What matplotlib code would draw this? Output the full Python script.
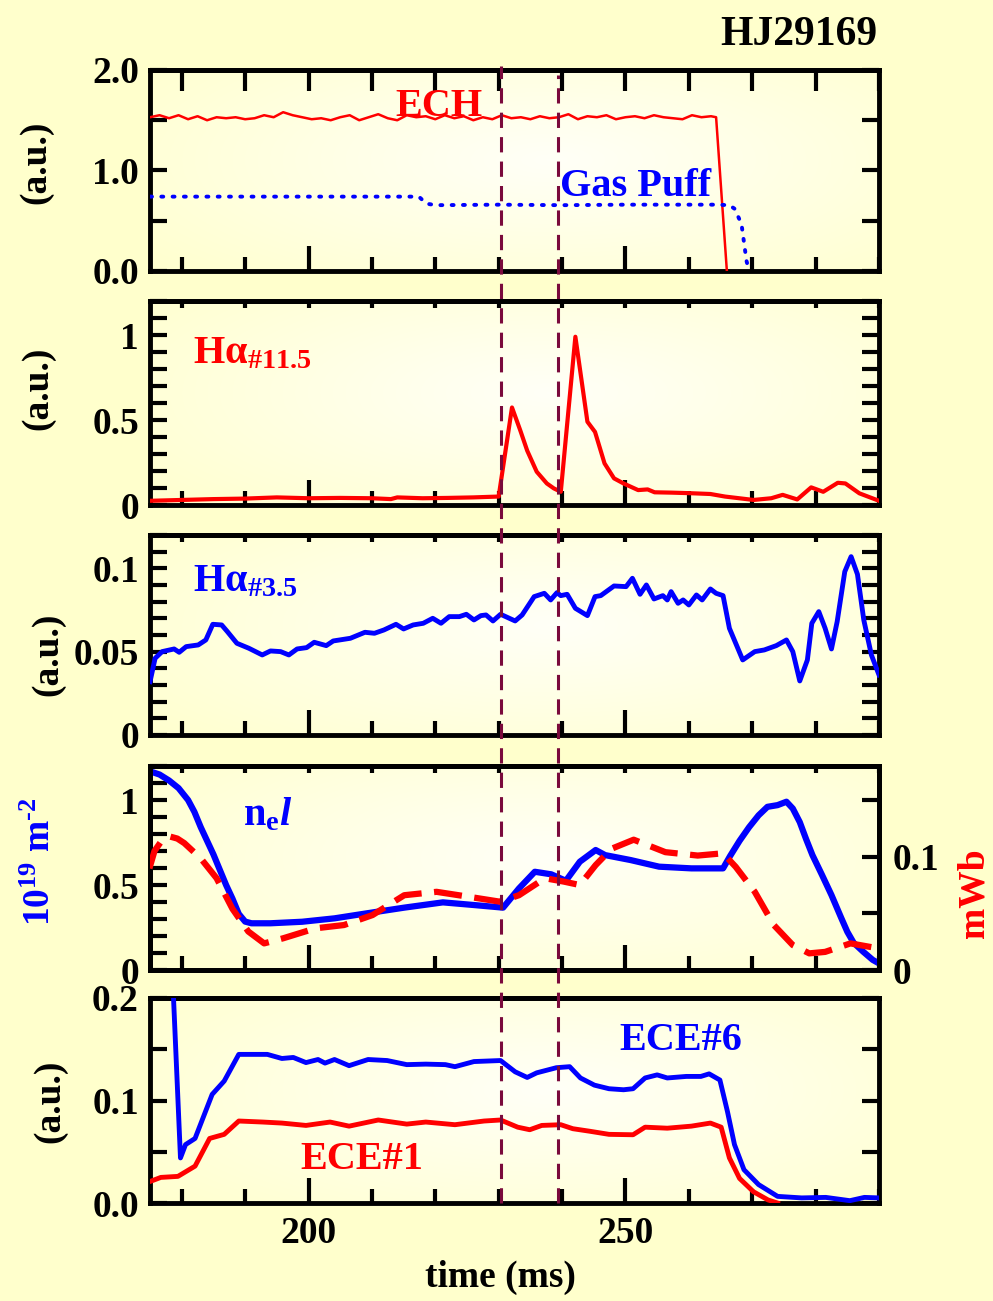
import numpy as np
import matplotlib.pyplot as plt
from matplotlib.ticker import MultipleLocator
from matplotlib.lines import Line2D
from matplotlib import transforms

plt.rcParams['font.family'] = ['Liberation Serif', 'DejaVu Serif']
plt.rcParams['font.weight'] = 'bold'
plt.rcParams['mathtext.fontset'] = 'custom'
plt.rcParams['mathtext.rm'] = 'Liberation Serif:bold'
plt.rcParams['mathtext.bf'] = 'Liberation Serif:bold'
plt.rcParams['mathtext.it'] = 'Liberation Serif:italic:bold'

BG = '#FFFFCC'
RED = '#FF0000'
BLUE = '#0000FF'
MAROON = '#7A0A3C'

shot = 'HJ29169'
t_lim = (175, 290)
t_marks = [230.3, 239.4]

# ---------------------------------------
# Panel 1: ECH power and gas puff
# ---------------------------------------
t_ech = list(np.arange(175, 264, 1.5)) + [264.3, 266.0]
ech = [1.53, 1.55, 1.52, 1.55, 1.51, 1.54, 1.50, 1.53, 1.52, 1.53,
       1.51, 1.52, 1.55, 1.53, 1.58, 1.55, 1.53, 1.51, 1.52, 1.50,
       1.53, 1.55, 1.50, 1.53, 1.56, 1.52, 1.50, 1.55, 1.53, 1.54,
       1.51, 1.55, 1.52, 1.54, 1.50, 1.53, 1.51, 1.55, 1.52, 1.53,
       1.51, 1.54, 1.52, 1.53, 1.56, 1.51, 1.54, 1.53, 1.55, 1.51,
       1.53, 1.54, 1.52, 1.55, 1.53, 1.52, 1.51, 1.55, 1.53, 1.54,
       1.53, 0.0]

t_gas = [175, 217.4, 218.6, 220.1, 230, 240, 250, 264.2, 266.4, 267.2,
         268.3, 269.1, 269.5]
gas = [0.74, 0.74, 0.67, 0.655, 0.66, 0.655, 0.66, 0.66, 0.655, 0.62,
       0.47, 0.10, 0.0]

# ---------------------------------------
# Panel 2: H-alpha #11.5
# ---------------------------------------
t_ha11 = [175, 180, 185, 190, 195, 200, 205, 210, 213, 214, 218, 222,
          226, 230, 232.1, 233.4, 234.5, 236, 237.6, 238.7, 239.8, 242.1,
          244, 245.2, 246.7, 248.2, 249.7, 252, 253.5, 254.6, 257.3, 260,
          263.4, 265.7, 270.2, 273, 274.8, 277.1, 279.3, 281.2, 283.5,
          284.7, 286.9, 290]
ha11 = [0.025, 0.03, 0.035, 0.038, 0.045, 0.04, 0.042, 0.04, 0.035,
        0.045, 0.04, 0.042, 0.045, 0.05, 0.574, 0.44, 0.32, 0.196, 0.127,
        0.098, 0.078, 0.99, 0.49, 0.43, 0.245, 0.157, 0.127, 0.088, 0.092,
        0.075, 0.073, 0.07, 0.065, 0.05, 0.03, 0.04, 0.06, 0.033, 0.104,
        0.078, 0.131, 0.127, 0.069, 0.025]

# ---------------------------------------
# Panel 3: H-alpha #3.5
# ---------------------------------------
t_ha3 = [175, 175.8, 176.9, 178.8, 179.6, 180.7, 182.6, 183.8, 184.9,
         186.3, 187.2, 188.7, 190.6, 192.7, 194, 195.6, 196.9, 198.2,
         199.7, 200.9, 202.8, 203.9, 206.6, 208.9, 210.4, 211.9, 213.8,
         215, 216.5, 218.1, 219.6, 220.9, 222.2, 223.8, 224.9, 226.1,
         227.2, 228, 229.1, 230.3, 232.6, 233.7, 235.6, 237.2, 238.2,
         239.2, 239.8, 240.8, 242.1, 244, 245.2, 246.1, 248.2, 250.1,
         251.1, 252.3, 253.3, 254.5, 255.9, 256.6, 257.2, 258.3, 259.1,
         260, 261.2, 262.1, 263.4, 264.3, 265.4, 266.4, 268.5, 270.4,
         271.9, 273.8, 275.4, 276.4, 277.5, 278.7, 279.4, 280.5, 281.5,
         282.5, 283.4, 284.6, 285.6, 286.6, 287.6, 288.8, 290]
ha3 = [0.032, 0.046, 0.050, 0.0516, 0.0496, 0.053, 0.054, 0.057, 0.0664,
       0.066, 0.062, 0.055, 0.052, 0.048, 0.0504, 0.050, 0.048, 0.0516,
       0.0524, 0.0556, 0.0536, 0.0564, 0.058, 0.0616, 0.061, 0.063,
       0.0664, 0.0636, 0.066, 0.067, 0.070, 0.067, 0.071, 0.071, 0.0724,
       0.069, 0.0716, 0.072, 0.0684, 0.0724, 0.0684, 0.072, 0.083, 0.085,
       0.081, 0.0854, 0.0836, 0.0844, 0.076, 0.0716, 0.083, 0.0836,
       0.0894, 0.089, 0.094, 0.0844, 0.090, 0.0816, 0.0836, 0.081, 0.086,
       0.079, 0.081, 0.078, 0.084, 0.081, 0.0876, 0.085, 0.0836, 0.064,
       0.045, 0.050, 0.051, 0.0536, 0.057, 0.050, 0.0324, 0.045, 0.067,
       0.074, 0.064, 0.0516, 0.068, 0.098, 0.107, 0.0964, 0.069, 0.048,
       0.036]

# ---------------------------------------
# Panel 4: line density and flux
# ---------------------------------------
t_nel = [174.9, 176.5, 178, 179.5, 181, 182, 183, 184, 185, 186, 187, 188,
         189, 190, 191, 194, 199, 204.1, 209.1, 215.1, 221.2, 226.2, 230.7,
         233.2, 235.7, 238.3, 240.6, 242.8, 245.3, 246.8, 250.8, 255.3,
         260.4, 265.4, 266.5, 268, 269.5, 271, 272.4, 274, 275.4, 276.4,
         277.5, 278.5, 279.5, 281, 282.5, 284, 285, 286, 287.5, 289, 290]
nel = [1.17, 1.15, 1.115, 1.07, 1.0, 0.93, 0.84, 0.76, 0.68, 0.59, 0.50,
       0.42, 0.33, 0.285, 0.275, 0.275, 0.284, 0.304, 0.333, 0.367, 0.398,
       0.382, 0.367, 0.48, 0.578, 0.563, 0.525, 0.637, 0.706, 0.676,
       0.647, 0.608, 0.598, 0.598, 0.67, 0.76, 0.84, 0.91, 0.96, 0.97,
       0.99, 0.95, 0.87, 0.77, 0.676, 0.56, 0.441, 0.31, 0.225, 0.16,
       0.108, 0.06, 0.039]

t_flux = [174.9, 175.7, 176.7, 178, 179.3, 180.4, 183, 185.5, 188, 190.5,
          193, 196, 201.1, 205.6, 210.1, 215.1, 220.2, 225.2, 230.2, 233.2,
          237.3, 240.3, 242.8, 245.3, 247.8, 251.3, 256.3, 261.4, 265.4,
          267.4, 270.4, 273.4, 276.4, 279, 281.5, 285.5, 290]
flux = [0.0897, 0.105, 0.113, 0.118, 0.116, 0.112, 0.0985, 0.081, 0.054,
        0.034, 0.0235, 0.028, 0.0368, 0.0397, 0.0485, 0.066, 0.069, 0.0647,
        0.0603, 0.066, 0.081, 0.078, 0.075, 0.0926, 0.107, 0.115, 0.104,
        0.101, 0.103, 0.091, 0.069, 0.0397, 0.022, 0.0147, 0.016, 0.0235,
        0.019]

# ---------------------------------------
# Panel 5: ECE channels
# ---------------------------------------
t_ece6 = [178.0, 179.8, 180.6, 182.1, 184.8, 186.7, 189, 193.5, 195.8,
          197.6, 199.6, 201.5, 202.6, 204.1, 206.4, 209.4, 212.4, 215.5,
          218.5, 221.6, 223.1, 226.1, 230.3, 232.6, 234.5, 236, 239.1,
          241.2, 242.9, 245.1, 247.4, 249.7, 251.2, 253.1, 255, 256.6,
          259.6, 261.9, 263.2, 264.9, 266.1, 267.2, 268.7, 271, 274, 277.8,
          281.6, 285.4, 287.7, 290]
ece6 = [0.30, 0.044, 0.057, 0.063, 0.106, 0.119, 0.145, 0.145, 0.141,
        0.142, 0.137, 0.140, 0.1365, 0.140, 0.134, 0.140, 0.139, 0.135,
        0.1355, 0.135, 0.133, 0.138, 0.139, 0.128, 0.1225, 0.127, 0.132,
        0.133, 0.122, 0.115, 0.1115, 0.1105, 0.1115, 0.122, 0.125, 0.122,
        0.1235, 0.1235, 0.126, 0.120, 0.089, 0.057, 0.0325, 0.018, 0.0065,
        0.005, 0.0055, 0.0023, 0.0055, 0.005]

t_ece1 = [175, 176.7, 179.4, 182.1, 184.4, 186.7, 189, 192.8, 195.8,
          199.6, 203.4, 206.4, 211, 215.5, 218.5, 223.1, 227.7, 230.3, 233,
          234.9, 236.8, 239.8, 241.7, 244.4, 247.4, 251.2, 253.1, 256.6,
          260.4, 263.4, 265.1, 266.4, 268, 270.2, 272.5, 274]
ece1 = [0.021, 0.025, 0.026, 0.036, 0.063, 0.067, 0.080, 0.079, 0.078,
        0.0757, 0.079, 0.075, 0.081, 0.077, 0.079, 0.0764, 0.080, 0.081,
        0.074, 0.0715, 0.0757, 0.0764, 0.0725, 0.070, 0.067, 0.0666, 0.074,
        0.073, 0.075, 0.078, 0.074, 0.044, 0.024, 0.011, 0.003, 0.0]


def shade(ax):
    # pale radial wash behind each panel
    yy, xx = np.mgrid[0:1:120j, 0:1:200j]
    d = np.clip(np.hypot((xx - 0.55) / 0.75, (yy - 0.45) / 0.9), 0, 1)
    img = np.dstack([np.ones_like(d), np.ones_like(d), 0.97 - 0.17 * d])
    ax.imshow(img, extent=(0, 1, 0, 1), transform=ax.transAxes,
              aspect='auto', zorder=0, interpolation='bilinear')


def style(ax, top_len=5):
    ax.set_xlim(*t_lim)
    ax.xaxis.set_major_locator(MultipleLocator(50))
    ax.xaxis.set_minor_locator(MultipleLocator(10))
    ax.tick_params(axis='x', which='major', direction='in', length=18,
                   width=3, labelsize=27, pad=9)
    ax.tick_params(axis='x', which='minor', direction='in', length=10,
                   width=3)
    ax.tick_params(axis='y', which='both', direction='in', length=12,
                   width=3, labelsize=27, pad=8)
    for sp in ax.spines.values():
        sp.set_linewidth(3.5)
    sec = ax.secondary_xaxis('top')
    sec.xaxis.set_major_locator(MultipleLocator(10))
    sec.tick_params(axis='x', which='both', direction='in', length=top_len,
                    width=3, labeltop=False)
    sec.spines['top'].set_linewidth(3.5)


fig = plt.figure(figsize=(9.93, 13.01), dpi=100, facecolor=BG)

left, width = 0.1511, 0.7341
rects = [(0.7917, 0.1545), (0.6118, 0.1568), (0.4351, 0.1537),
         (0.2544, 0.1568), (0.0753, 0.1576)]
axes = [fig.add_axes([left, y0, width, h]) for y0, h in rects]
for ax in axes:
    shade(ax)

ax1, ax2, ax3, ax4, ax5 = axes

# panel 1
ax1.plot(t_ech, ech, color=RED, lw=1.8, zorder=3)
ax1.plot(t_gas, gas, color=BLUE, lw=2.8, linestyle=(0, (0.5, 2.4)),
         dash_capstyle='round', zorder=3)
ax1.set_ylim(0, 2.0)
ax1.set_yticks([0, 1, 2], ['0.0', '1.0', '2.0'])
ax1.yaxis.set_minor_locator(MultipleLocator(0.5))
style(ax1, top_len=15)
ax1.tick_params(axis='y', which='both', right=True)
ax1.text(220.6, 1.64, 'ECH', color=RED, fontsize=29, ha='center',
         va='center', zorder=4)
ax1.text(251.6, 0.84, 'Gas Puff', color=BLUE, fontsize=29, ha='center',
         va='center', zorder=4)

# panel 2
ax2.plot(t_ha11, ha11, color=RED, lw=3.0, zorder=3)
ax2.set_ylim(0, 1.2)
ax2.set_yticks([0, 0.5, 1], ['0', '0.5', '1'])
ax2.yaxis.set_minor_locator(MultipleLocator(0.1))
style(ax2)
ax2.tick_params(axis='y', which='both', right=True)
ax2.text(181.7, 0.89, r'H$\mathrm{\alpha}_{\#11.5}$', color=RED,
         fontsize=29, ha='left', va='center', zorder=4)

# panel 3
ax3.plot(t_ha3, ha3, color=BLUE, lw=3.5, zorder=3)
ax3.set_ylim(0, 0.12)
ax3.set_yticks([0, 0.05, 0.1], ['0', '0.05', '0.1'])
ax3.yaxis.set_minor_locator(MultipleLocator(0.01))
style(ax3)
ax3.tick_params(axis='y', which='both', right=True)
ax3.text(181.7, 0.092, r'H$\mathrm{\alpha}_{\#3.5}$', color=BLUE,
         fontsize=29, ha='left', va='center', zorder=4)

# panel 4
ax4r = ax4.twinx()
ax4.plot(t_nel, nel, color=BLUE, lw=4.5, zorder=3)
ax4r.plot(t_flux, flux, color=RED, lw=4.5, linestyle=(0, (4.5, 2)),
          zorder=3)
ax4.set_ylim(0, 1.2)
ax4.set_yticks([0, 0.5, 1], ['0', '0.5', '1'])
ax4.yaxis.set_minor_locator(MultipleLocator(0.1))
ax4r.set_ylim(0, 0.18)
ax4r.set_yticks([0, 0.1], ['0', '0.1'])
ax4r.yaxis.set_minor_locator(MultipleLocator(0.05))
style(ax4)
ax4r.tick_params(axis='y', which='both', direction='in', length=12,
                 width=3, labelsize=27, pad=10)
for sp in ax4r.spines.values():
    sp.set_linewidth(3.5)
ax4.text(189.7, 0.91, r'$\mathrm{n_e}\mathit{l}$', color=BLUE, fontsize=29,
         ha='left', va='center', zorder=4)

# panel 5
ax5.plot(t_ece6, ece6, color=BLUE, lw=3.5, zorder=3)
ax5.plot(t_ece1, ece1, color=RED, lw=3.5, zorder=3)
ax5.set_ylim(0, 0.2)
ax5.set_yticks([0, 0.1, 0.2], ['0.0', '0.1', '0.2'])
ax5.yaxis.set_minor_locator(MultipleLocator(0.05))
style(ax5, top_len=0)
ax5.tick_params(axis='y', which='both', right=True)
ax5.text(258.7, 0.159, 'ECE#6', color=BLUE, fontsize=29, ha='center',
         va='center', zorder=4)
ax5.text(208.4, 0.042, 'ECE#1', color=RED, fontsize=29, ha='center',
         va='center', zorder=4)

for ax in axes[:-1]:
    ax.tick_params(axis='x', labelbottom=False)
ax5.set_xticks([200, 250], ['200', '250'])

# time markers running through all panels
tr = transforms.blended_transform_factory(ax5.transData, fig.transFigure)
for tm, ytop in zip(t_marks, [0.949, 0.942]):
    fig.add_artist(Line2D([tm, tm], [0.0753, ytop], transform=tr,
                          color=MAROON, lw=2.2, linestyle=(0, (5, 3))))

# labels
fig.text(0.884, 0.973, shot, fontsize=30, ha='right', va='center')
fig.text(500 / 993, 1 - 1277 / 1301, 'time (ms)', fontsize=27,
         ha='center', va='center')
for x, y in [(36, 162), (38, 388), (48, 654), (50, 1101)]:
    fig.text(x / 993, 1 - y / 1301, '(a.u.)', fontsize=27, rotation=90,
             ha='center', va='center')
fig.text(40 / 993, 1 - 862 / 1301, '10$^{19}$ m$^{\u2010 2}$',
         fontsize=27, rotation=90, ha='center', va='center', color=BLUE)
fig.text(974 / 993, 1 - 893 / 1301, 'mWb', fontsize=27, rotation=90,
         ha='center', va='center', color=RED)

fig.savefig('out.png', dpi=100, facecolor=BG)
